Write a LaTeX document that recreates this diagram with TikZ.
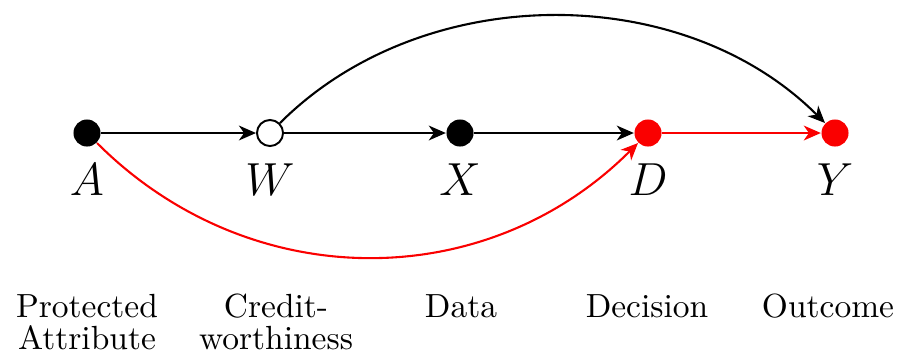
\documentclass[tikz,border=0pt]{standalone}
\usetikzlibrary{arrows.meta}
\definecolor{myred}{RGB}{250,0,0}
\newcommand{\twolines}[2]{\begin{tabular}[t]{@{}c@{}}#1\\#2\end{tabular}}
\begin{document}
\begin{tikzpicture}[x=0.3106pt,y=-0.3106pt,
  dot/.style={circle,fill=black,inner sep=0pt,minimum size=8.4pt},
  hollow/.style={circle,draw=black,fill=white,line width=0.6pt,inner sep=0pt,minimum size=8.1pt},
  reddot/.style={circle,fill=myred,inner sep=0pt,minimum size=8.4pt},
  varlab/.style={anchor=base,font=\Large,inner sep=0pt},
  desc/.style={anchor=base,inner sep=0pt,font=\fontsize{10.4}{10.3}\selectfont\renewcommand{\arraystretch}{0.89}},
  edge/.style={line width=0.65pt,-{Stealth[length=5.3pt,width=4.6pt,inset=1.6pt]}},
  redge/.style={edge,draw=myred}]
\useasboundingbox (0,0) rectangle (909,356);
\node[dot] (A) at (87,133) {};
\node[hollow] (W) at (270,133) {};
\node[dot] (X) at (460,133) {};
\node[reddot] (D) at (648,133) {};
\node[reddot] (Y) at (835,133) {};
\node[varlab] (lA) at (87,195) {$A$};
\node[varlab] (lW) at (270,195) {$W$};
\node[varlab] (lX) at (460,195) {$X$};
\node[varlab] (lD) at (648,195) {$D$};
\node[varlab] (lY) at (835,195) {$Y$};
\node[desc] (dA) at (87,317) {\twolines{Protected}{Attribute}};
\node[desc] (dW) at (276,317) {\twolines{Credit-}{worthiness}};
\node[desc] (dX) at (461,317) {Data};
\node[desc] (dD) at (647,317) {Decision};
\node[desc] (dY) at (828,317) {Outcome};
\draw[edge] (A) -- (W);
\draw[edge] (W) -- (X);
\draw[edge] (X) -- (D);
\draw[redge] (D) -- (Y);
\draw[edge] (W) to[out=45,in=135,looseness=0.95] (Y);
\draw[redge] (A) to[out=-45,in=-135,looseness=1.02] (D);
\end{tikzpicture}
\end{document}
